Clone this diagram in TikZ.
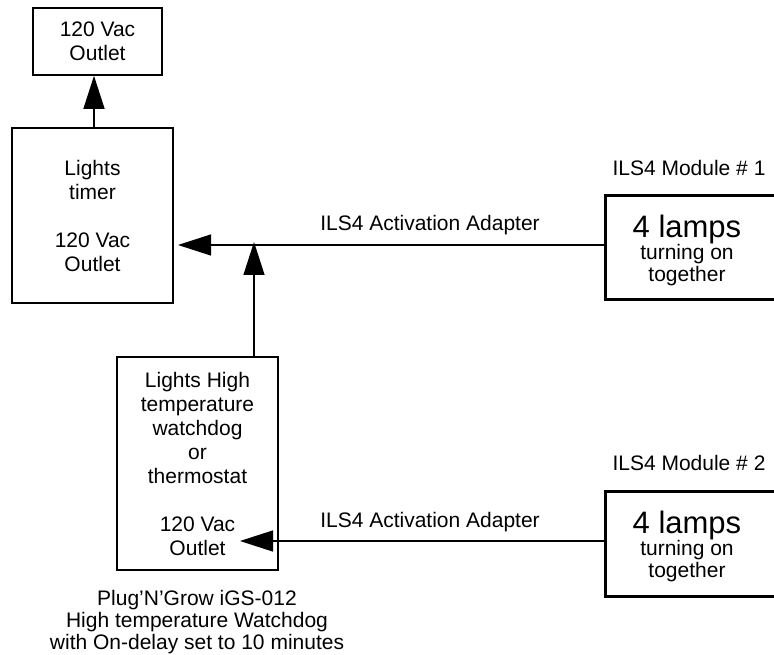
\documentclass[tikz,border=0pt]{standalone}
\usepackage{fontspec}
\setmainfont{Liberation Sans}
\usetikzlibrary{arrows.meta}
\begin{document}
\begin{tikzpicture}[x=1pt,y=-1pt,
  every node/.style={font=\fontsize{21}{24}\selectfont, align=center, inner sep=0pt},
  box/.style={draw, line width=1.6pt},
  modbox/.style={draw, line width=3pt},
  arr/.style={line width=1.4pt, -{Triangle[length=33pt,width=21pt]}}]
\useasboundingbox (0,0) rectangle (774,655);
\clip (0,0) rectangle (774,655);
% boxes
\node[box, minimum width=129pt, minimum height=67pt] (top) at (97.5,41.5) {120 Vac\\Outlet};
\node[box, minimum width=161pt, minimum height=175pt] (timer) at (92.5,215.5) {Lights\\timer\\~\\120 Vac\\Outlet};
\node[box, minimum width=161pt, minimum height=213pt] (wd) at (197.5,463.5) {Lights High\\temperature\\watchdog\\or\\thermostat\\~\\120 Vac\\Outlet};
\node[modbox, minimum width=180pt, minimum height=103pt] (mod1) at (695,247.5) {};
\node[modbox, minimum width=180pt, minimum height=105pt] (mod2) at (695,543.5) {};
% module texts
\node (mod1t) at (687,250) {{\fontsize{31}{31}\selectfont 4 lamps}\\[-2pt]turning on\\[-2pt]together};
\node (mod2t) at (687,546) {{\fontsize{31}{31}\selectfont 4 lamps}\\[-2pt]turning on\\[-2pt]together};
\node (lab1) at (689,168) {ILS4 Module \# 1};
\node (lab2) at (689,463) {ILS4 Module \# 2};
\node (ad1) at (430,225) {ILS4 Activation Adapter};
\node (ad2) at (430,522) {ILS4 Activation Adapter};
\node[font=\fontsize{21}{22}\selectfont] (cap) at (197,622) {Plug{\char"27}N{\char"27}Grow iGS-012\\High temperature Watchdog\\with On-delay set to 10 minutes};
% connectors
\coordinate (j) at (254,245);
\coordinate (t1) at (178,245);
\coordinate (t2) at (240,541);
\draw[arr] (timer.north -| 94,0) -- (top.south -| 94,0);
\draw[arr] (mod1.west |- t1) -- (t1);
\draw[arr] (wd.north -| j) -- ([yshift=3pt]j);
\draw[arr] (mod2.west |- t2) -- (t2);
\end{tikzpicture}
\end{document}
